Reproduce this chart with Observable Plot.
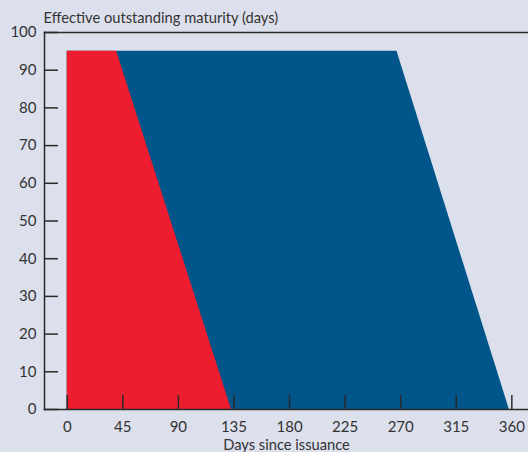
<!DOCTYPE html>
<html><head><meta charset="utf-8">
<script src="https://cdn.jsdelivr.net/npm/d3@7"></script>
<script src="https://cdn.jsdelivr.net/npm/@observablehq/plot@0.6"></script>
<style>html,body{margin:0;padding:0;background:#dcdfec;}</style>
</head><body><div id="chart"></div>
<script>
// Effective outstanding maturity levels (days) and the day since issuance where each band ends
const maturityLevels = [0, 95];
const redEnd = [133, 40];
const blueEnd = [358, 267];
const xTicks = [0, 45, 90, 135, 180, 225, 270, 315, 360];
const yTicks = [0, 10, 20, 30, 40, 50, 60, 70, 80, 90, 100];
const yTitle = "Effective outstanding maturity (days)";
const xTitle = "Days since issuance";

const rows = maturityLevels.map((y, i) => ({y, red: redEnd[i], blue: blueEnd[i]}));
const ink = "#2a2a2a";
const chart = Plot.plot({
  width: 528, height: 452,
  marginLeft: 44, marginRight: 0, marginTop: 32, marginBottom: 43,
  style: {background: "transparent", fontFamily: "Lato", fontSize: "15px", color: "#333"},
  x: {domain: [-18.4, 373.5]},
  y: {domain: [0, 100]},
  marks: [
    Plot.areaX(rows, {y: "y", x1: 0, x2: "blue", fill: "#00558a"}),
    Plot.areaX(rows, {y: "y", x1: 0, x2: "red", fill: "#ed1c2e"}),
    Plot.frame({anchor: "top", stroke: ink, strokeWidth: 1.5}),
    Plot.frame({anchor: "left", stroke: ink, strokeWidth: 1.5}),
    Plot.frame({anchor: "bottom", stroke: ink, strokeWidth: 1.5}),
    Plot.axisY({ticks: yTicks, tickSize: -14, tickPadding: 22, label: null, stroke: ink, strokeWidth: 1.5, fill: "#333", fontSize: 15}),
    Plot.axisX({ticks: xTicks, tickSize: -14, tickPadding: 26, label: null, stroke: ink, strokeWidth: 1.5, fill: "#333", fontSize: 15}),
    Plot.text([yTitle], {frameAnchor: "top-left", textAnchor: "start", dx: -1, dy: -20, fill: "#333", fontSize: 14.7}),
    Plot.text([xTitle], {frameAnchor: "bottom", dy: 40, fill: "#333", fontSize: 14.7})
  ]
});
document.getElementById("chart").append(chart);
</script>
</body></html>
